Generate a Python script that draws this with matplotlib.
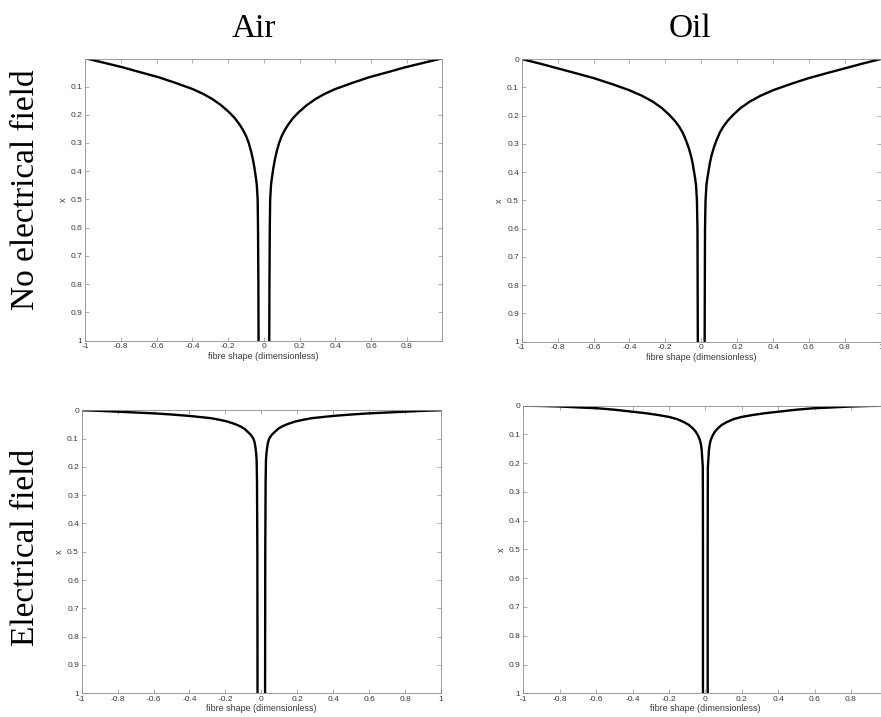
import matplotlib
matplotlib.use("Agg")
import matplotlib.pyplot as plt
import numpy as np

# half-width of the fibre (right branch) against depth x
# the left branch is the mirror image
air_plain_depth = [0, 0.015, 0.032, 0.048, 0.066, 0.086, 0.109, 0.126, 0.145, 0.166, 0.192, 0.212, 0.234,
                   0.253, 0.275, 0.300, 0.329, 0.357, 0.388, 0.418, 0.447, 0.5, 0.6, 0.8, 1.0]
air_plain_width = [1.0, 0.9, 0.79, 0.7, 0.595, 0.5, 0.399, 0.34, 0.287, 0.24, 0.193, 0.163, 0.137,
                   0.118, 0.100, 0.085, 0.072, 0.062, 0.053, 0.046, 0.040, 0.035, 0.033, 0.031, 0.030]

oil_plain_depth = [0, 0.016, 0.033, 0.050, 0.068, 0.088, 0.110, 0.130, 0.150, 0.173, 0.197, 0.218, 0.239,
                   0.261, 0.286, 0.312, 0.340, 0.368, 0.399, 0.422, 0.446, 0.5, 0.6, 0.8, 1.0]
oil_plain_width = [1.0, 0.9, 0.80, 0.7, 0.597, 0.5, 0.402, 0.33, 0.272, 0.22, 0.179, 0.148, 0.123,
                   0.103, 0.086, 0.071, 0.058, 0.048, 0.040, 0.034, 0.029, 0.024, 0.021, 0.020, 0.019]

air_field_depth = [0, 0.002, 0.005, 0.008, 0.011, 0.015, 0.020, 0.024, 0.028, 0.034, 0.040, 0.049, 0.058,
                   0.066, 0.076, 0.087, 0.099, 0.112, 0.129, 0.150, 0.176, 0.25, 0.5, 1.0]
air_field_width = [1.0, 0.9, 0.80, 0.7, 0.596, 0.5, 0.40, 0.34, 0.28, 0.23, 0.188, 0.145, 0.113,
                   0.093, 0.076, 0.058, 0.045, 0.038, 0.033, 0.029, 0.026, 0.024, 0.022, 0.021]

oil_field_depth = [0, 0.001, 0.003, 0.006, 0.009, 0.014, 0.021, 0.026, 0.032, 0.039, 0.047, 0.057, 0.067,
                   0.078, 0.090, 0.104, 0.119, 0.135, 0.154, 0.212, 0.3, 0.5, 1.0]
oil_field_width = [1.0, 0.9, 0.795, 0.7, 0.593, 0.5, 0.401, 0.33, 0.264, 0.2, 0.154, 0.118, 0.090,
                   0.070, 0.053, 0.040, 0.030, 0.024, 0.020, 0.014, 0.0135, 0.013, 0.013]

x_ticks = [-1, -0.8, -0.6, -0.4, -0.2, 0, 0.2, 0.4, 0.6, 0.8, 1]
y_ticks = [0, 0.1, 0.2, 0.3, 0.4, 0.5, 0.6, 0.7, 0.8, 0.9, 1]

col_titles = ["Air", "Oil"]
row_titles = ["No electrical field", "Electrical field"]

fig = plt.figure(figsize=(8.81, 7.17), dpi=100)

# [left, bottom, width, height], xlim, ylim
panels = [
    ([0.0968, 0.5250, 0.4049, 0.3925], (-1, 0.997), (1, 0.003), air_plain_width, air_plain_depth),
    ([0.5922, 0.5234, 0.4075, 0.3943], (-1, 1), (1, 0), oil_plain_width, oil_plain_depth),
    ([0.0927, 0.0331, 0.4078, 0.3947], (-1, 1), (1, 0), air_field_width, air_field_depth),
    ([0.5940, 0.0331, 0.4132, 0.4011], (-1, 1), (1, 0), oil_field_width, oil_field_depth),
]

tick_col = "#3a3a3a"
spine_col = "#8c8c8c"

for rect, xl, yl, w, d in panels:
    ax = fig.add_axes(rect)
    w = np.array(w)
    ax.plot(w, d, color="black", lw=1.7, solid_joinstyle="round")
    ax.plot(-w, d, color="black", lw=1.7, solid_joinstyle="round")
    ax.set_xticks(x_ticks)
    ax.set_yticks(y_ticks)
    ax.set_xticklabels([f"{v:g}" for v in x_ticks])
    ax.set_yticklabels([f"{v:g}" for v in y_ticks])
    ax.set_xlim(*xl)
    ax.set_ylim(*yl)
    ax.tick_params(direction="in", length=3, width=0.5, color=spine_col,
                   labelsize=6, labelcolor=tick_col, pad=2,
                   top=True, right=True)
    for lab in ax.get_xticklabels() + ax.get_yticklabels():
        lab.set_family("Liberation Sans")
    for s in ax.spines.values():
        s.set_color(spine_col)
        s.set_linewidth(0.6)
    ax.set_xlabel("fibre shape (dimensionless)", fontsize=6.5, color=tick_col,
                  family="Liberation Sans", labelpad=1)
    ax.set_ylabel("x", fontsize=6.5, color=tick_col, family="Liberation Sans",
                  labelpad=2)

fig.text(254 / 881, 1 - 37 / 717, col_titles[0], fontsize=24,
         family="Liberation Serif", ha="center", va="baseline")
fig.text(690 / 881, 1 - 37 / 717, col_titles[1], fontsize=24,
         family="Liberation Serif", ha="center", va="baseline")
fig.text(26 / 881, 1 - 190 / 717, row_titles[0], fontsize=24, rotation=90,
         family="Liberation Serif", ha="center", va="center")
fig.text(26 / 881, 1 - 547 / 717, row_titles[1], fontsize=24, rotation=90,
         family="Liberation Serif", ha="center", va="center")

fig.savefig("out.png", dpi=100)
